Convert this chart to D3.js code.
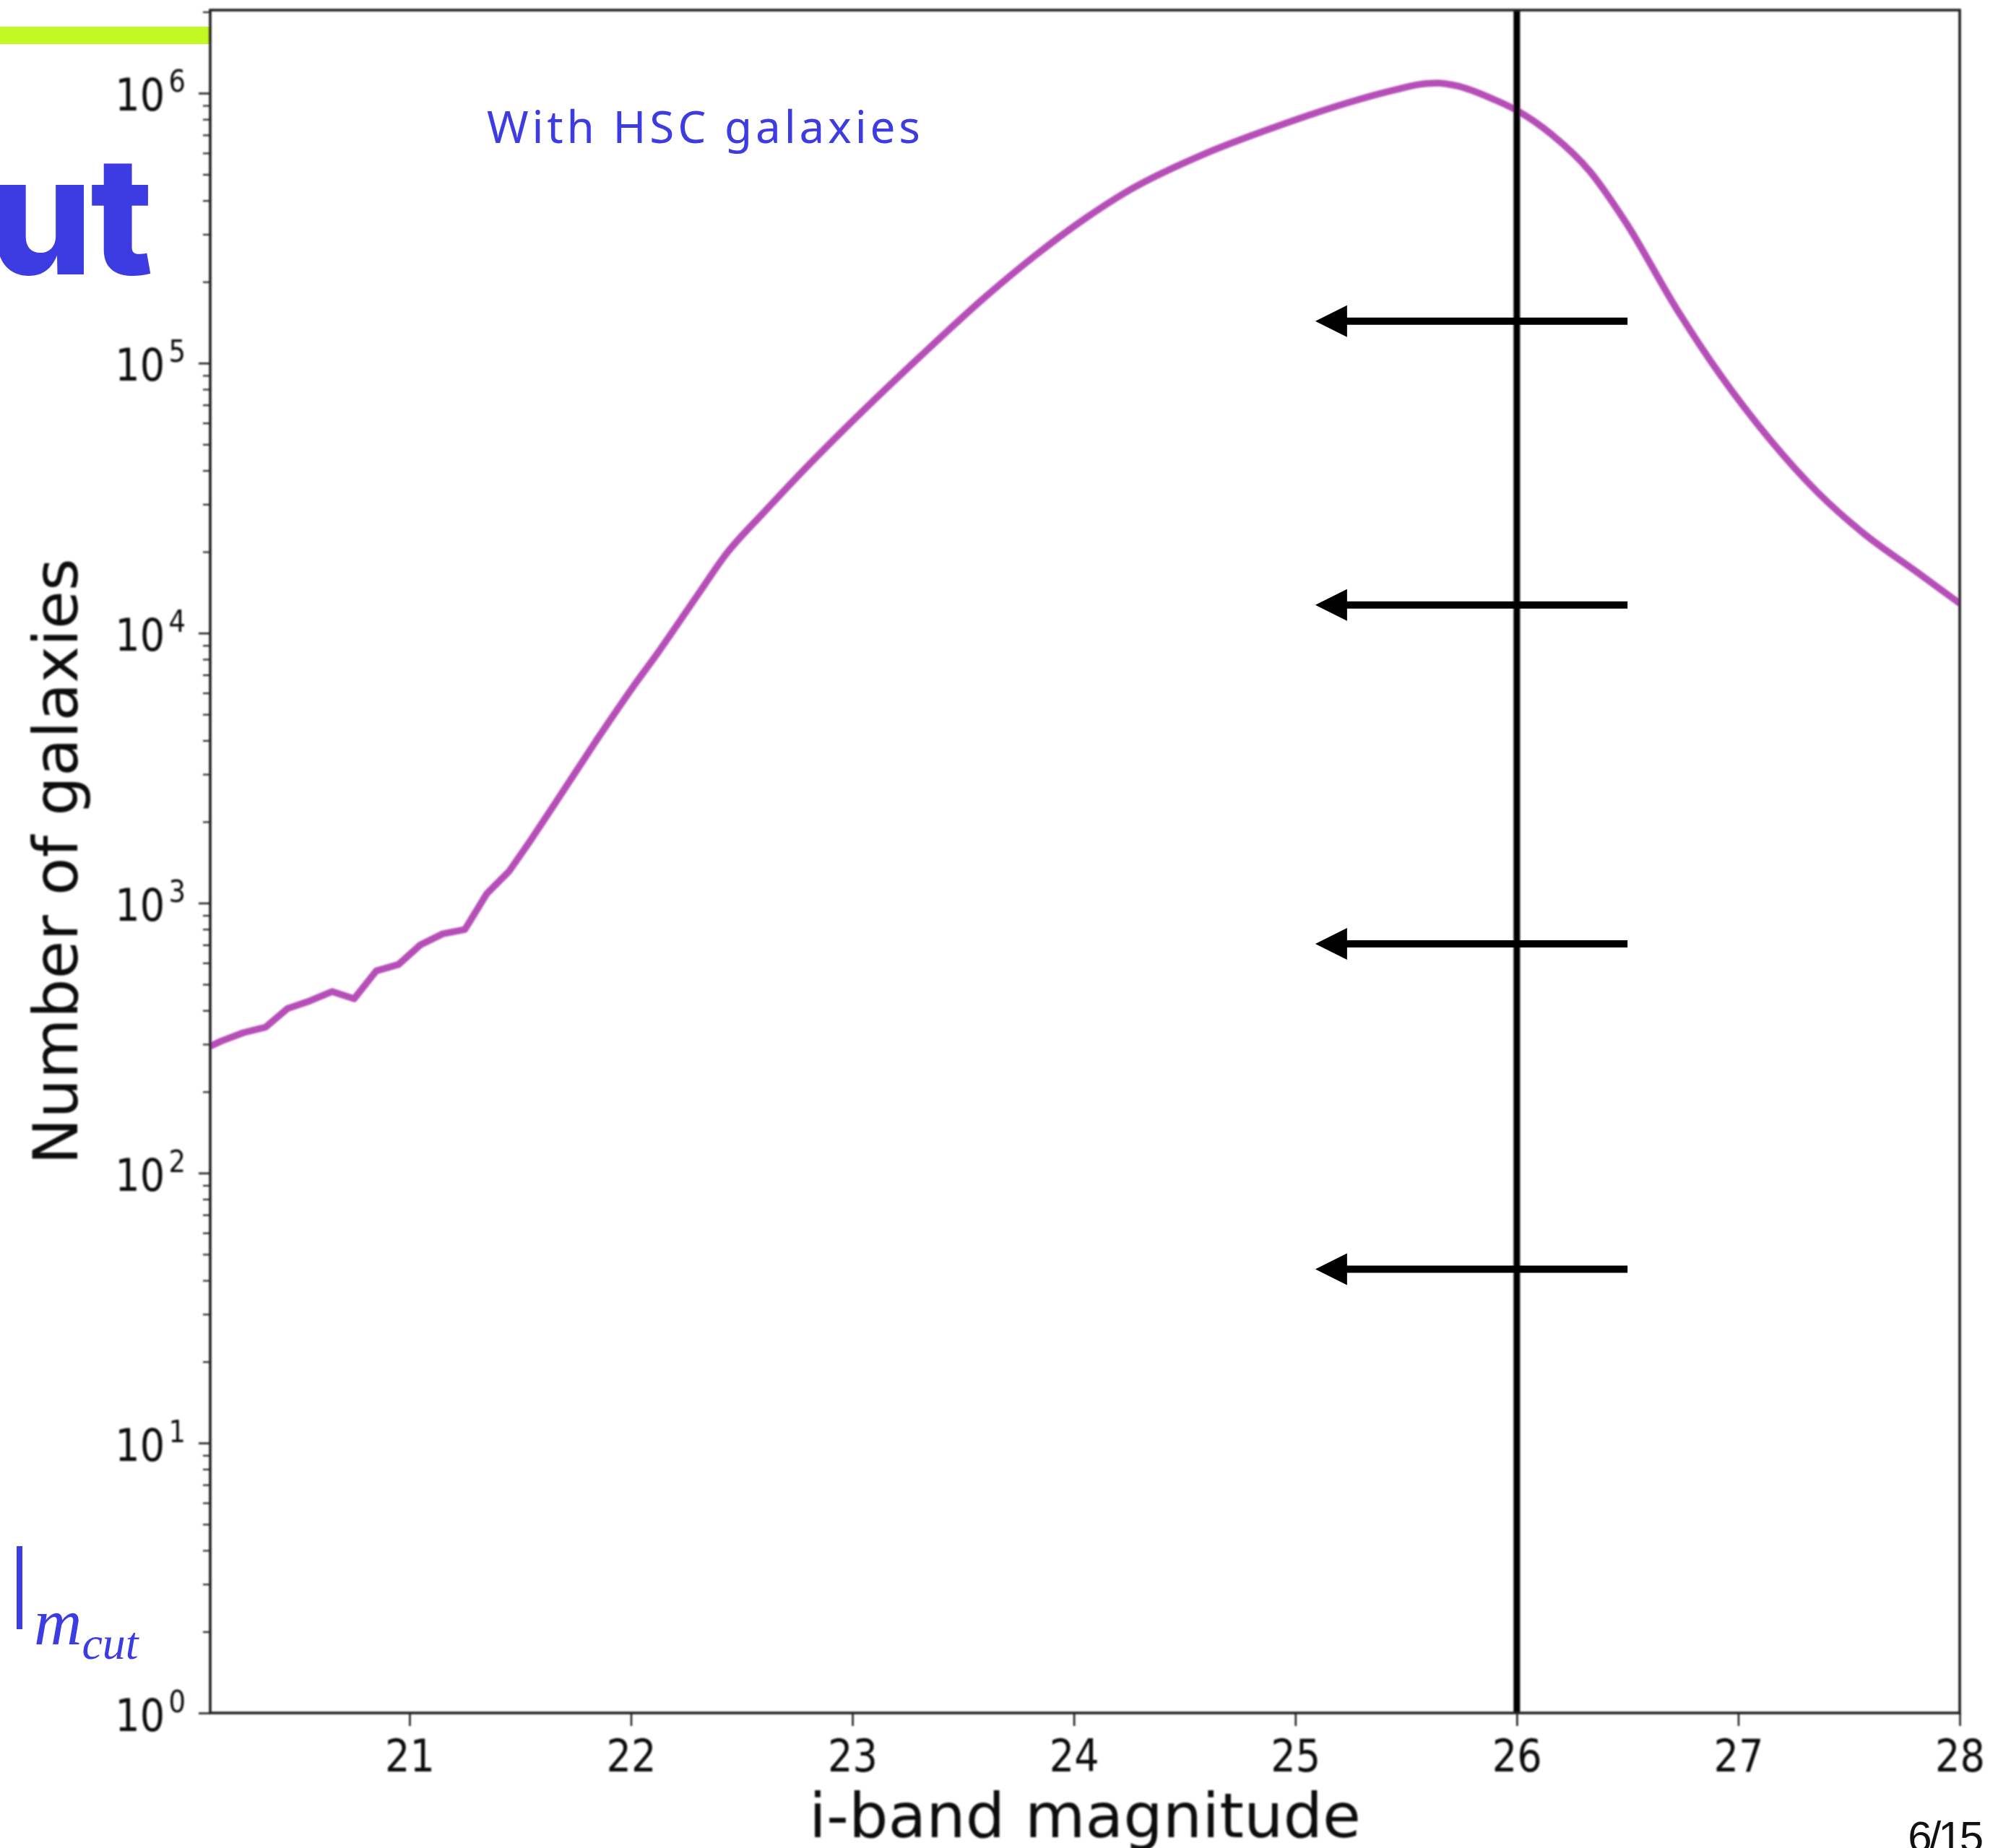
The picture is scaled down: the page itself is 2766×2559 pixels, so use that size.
<!DOCTYPE html>
<html>
<head>
<meta charset="utf-8">
<script src="https://cdn.jsdelivr.net/npm/d3@7"></script>
<style>
  html, body { margin: 0; padding: 0; background: #fff; }
  svg { display: block; }
</style>
</head>
<body>
<script>
// i-band magnitude bins and galaxy counts per bin
const magnitudes = [20.05, 20.15, 20.25, 20.35, 20.45, 20.55, 20.65, 20.75, 20.85, 20.95,
  21.05, 21.15, 21.25, 21.35, 21.45, 21.55, 21.65, 21.75, 21.85,
  22.0, 22.13, 22.3, 22.43, 22.6, 22.73,
  23.0, 23.3, 23.6, 23.82,
  24.05, 24.26, 24.59, 24.91,
  25.05, 25.24, 25.45, 25.56, 25.64, 25.73, 25.89,
  26.0, 26.16, 26.33, 26.49, 26.72, 26.92,
  27.14, 27.36, 27.58, 27.8, 28.0];
const galaxyCounts = [282, 308, 331, 347, 407, 434, 470, 442, 561, 592,
  701, 769, 798, 1086, 1312, 1722, 2291, 3055, 4074,
  6166, 8650, 13800, 19630, 27990, 36390,
  60950, 104700, 175800, 248300,
  342800, 441600, 595700, 750000,
  822400, 922600, 1028000, 1077000, 1090000, 1064000, 952800,
  863000, 699800, 512900, 334200, 159600, 90160,
  52480, 33110, 22910, 16980, 12880];
// the faint end of the sample is drawn bin to bin, the rest as a smooth curve
const smoothFrom = 21.85;

// axis ticks
const xTicks = [21, 22, 23, 24, 25, 26, 27, 28];
const yTicks = [1, 10, 100, 1000, 10000, 100000, 1000000];
const yTickExponents = ["0", "1", "2", "3", "4", "5", "6"];

// magnitude cut and the arrows pointing towards brighter magnitudes
const cutMagnitude = 26;
const arrowLevels = [143000, 12700, 706, 44];
const arrowFrom = 26.5;
const arrowTo = 25.09;

const xLabel = "i-band magnitude";
const yLabel = "Number of galaxies";
const annotation = "With HSC galaxies";
const titleTail = "ut";
const slideNumber = "6/15";

const W = 2766, H = 2559;
const L = 291, R = 2713, T = 14, B = 2372;
const BLUE = "#3d3be2";
const CURVE = "#b54fb7";
const TICK_FONT = "'DejaVu Sans', sans-serif";

const x = d3.scaleLinear().domain([20.1, 28]).range([L, R]);
const y = d3.scaleLog().domain([1, 2.03e6]).range([B, T]);

const svg = d3.select("body").append("svg")
  .attr("width", W).attr("height", H)
  .attr("viewBox", `0 0 ${W} ${H}`);

const defs = svg.append("defs");
defs.append("filter").attr("id", "soft")
  .attr("x", "-5%").attr("y", "-5%").attr("width", "110%").attr("height", "110%")
  .append("feGaussianBlur").attr("stdDeviation", 0.9);
defs.append("clipPath").attr("id", "plotArea")
  .append("rect").attr("x", L).attr("y", T).attr("width", R - L).attr("height", B - T);

svg.append("rect").attr("width", W).attr("height", H).attr("fill", "#fff");

// slide heading remnants
svg.append("rect")
  .attr("x", 0).attr("y", 37).attr("width", L).attr("height", 24)
  .attr("fill", "#c3f923");
svg.append("text")
  .attr("x", 208).attr("y", 380)
  .attr("text-anchor", "end")
  .attr("font-family", "Inter, 'Noto Sans', sans-serif")
  .attr("font-weight", 800)
  .attr("font-size", 228)
  .attr("letter-spacing", -4)
  .attr("fill", BLUE)
  .text(titleTail);

// chart
const chart = svg.append("g").attr("filter", "url(#soft)");

// x axis
const gx = chart.append("g")
  .attr("transform", `translate(0,${B})`)
  .call(d3.axisBottom(x).tickValues(xTicks).tickSize(18).tickFormat(""));
gx.select(".domain").remove();
gx.selectAll(".tick line").attr("stroke", "#222").attr("stroke-width", 2.6);
gx.selectAll(".tick").append("text")
  .attr("y", 81)
  .attr("transform", "scale(0.86,1)")
  .attr("text-anchor", "middle")
  .attr("font-family", TICK_FONT)
  .attr("font-size", 63)
  .attr("fill", "#111")
  .text(d => d);

// y axis: minor ticks
const minorTicks = [];
for (let k = 0; k <= 6; k++) {
  for (let m = 2; m <= 9; m++) {
    const v = m * Math.pow(10, k);
    if (v < y.domain()[1]) minorTicks.push(v);
  }
}
const gyMinor = chart.append("g")
  .attr("transform", `translate(${L},0)`)
  .call(d3.axisLeft(y).tickValues(minorTicks).tickSize(10).tickFormat(""));
gyMinor.select(".domain").remove();
gyMinor.selectAll(".tick line").attr("stroke", "#222").attr("stroke-width", 2.2);

// y axis: major ticks with power-of-ten labels
const gy = chart.append("g")
  .attr("transform", `translate(${L},0)`)
  .call(d3.axisLeft(y).tickValues(yTicks).tickSize(16).tickFormat(""));
gy.select(".domain").remove();
gy.selectAll(".tick line").attr("stroke", "#222").attr("stroke-width", 2.6);
const yLabels = gy.selectAll(".tick").append("text")
  .attr("transform", "translate(-34,0) scale(0.86,1)")
  .attr("y", 24)
  .attr("text-anchor", "end")
  .attr("font-family", TICK_FONT)
  .attr("fill", "#111");
yLabels.append("tspan").attr("font-size", 63).text("10");
yLabels.append("tspan")
  .attr("font-size", 43)
  .attr("dx", 6)
  .attr("dy", -26)
  .text((d, i) => yTickExponents[i]);

// counts curve
const series = magnitudes.map((m, i) => ({ m, n: galaxyCounts[i] }));
const curveGroup = chart.append("g")
  .attr("clip-path", "url(#plotArea)")
  .attr("fill", "none")
  .attr("stroke", CURVE)
  .attr("stroke-width", 9.5)
  .attr("stroke-linejoin", "round")
  .attr("stroke-linecap", "round");
curveGroup.append("path")
  .datum(series.filter(d => d.m <= smoothFrom))
  .attr("d", d3.line().x(d => x(d.m)).y(d => y(d.n)));
curveGroup.append("path")
  .datum(series.filter(d => d.m >= smoothFrom))
  .attr("d", d3.line().x(d => x(d.m)).y(d => y(d.n)).curve(d3.curveMonotoneX));

// magnitude cut
chart.append("line")
  .attr("x1", x(cutMagnitude)).attr("x2", x(cutMagnitude))
  .attr("y1", T).attr("y2", B)
  .attr("stroke", "#000").attr("stroke-width", 9);

// frame
chart.append("rect")
  .attr("x", L).attr("y", T).attr("width", R - L).attr("height", B - T)
  .attr("fill", "none").attr("stroke", "#222").attr("stroke-width", 3.6);

// axis titles
chart.append("text")
  .attr("x", (L + R) / 2).attr("y", 2544)
  .attr("text-anchor", "middle")
  .attr("font-family", TICK_FONT)
  .attr("font-size", 86)
  .attr("fill", "#111")
  .text(xLabel);
chart.append("text")
  .attr("transform", `translate(107,${(T + B) / 2}) rotate(-90)`)
  .attr("text-anchor", "middle")
  .attr("font-family", TICK_FONT)
  .attr("font-size", 86)
  .attr("fill", "#111")
  .text(yLabel);

// arrows towards brighter magnitudes
const HEAD_LEN = 44, HEAD_HALF = 22;
const arrows = svg.append("g");
arrowLevels.forEach(v => {
  const yy = y(v);
  const tip = x(arrowTo);
  arrows.append("line")
    .attr("x1", x(arrowFrom)).attr("x2", tip + HEAD_LEN - 2)
    .attr("y1", yy).attr("y2", yy)
    .attr("stroke", "#000").attr("stroke-width", 10);
  arrows.append("path")
    .attr("d", `M${tip},${yy} L${tip + HEAD_LEN},${yy - HEAD_HALF} L${tip + HEAD_LEN},${yy + HEAD_HALF} Z`)
    .attr("fill", "#000");
});

// annotation
svg.append("text")
  .attr("x", 674).attr("y", 198)
  .attr("font-family", "'Noto Sans', sans-serif")
  .attr("font-size", 62)
  .attr("textLength", 600)
  .attr("lengthAdjust", "spacing")
  .attr("fill", BLUE)
  .text(annotation);

// m_cut marker
svg.append("rect")
  .attr("x", 23).attr("y", 2141).attr("width", 8).attr("height", 115)
  .attr("fill", BLUE);
const mcut = svg.append("text")
  .attr("x", 47).attr("y", 2277)
  .attr("font-family", "'Liberation Serif', serif")
  .attr("font-style", "italic")
  .attr("fill", BLUE);
mcut.append("tspan").attr("font-size", 92).text("m");
mcut.append("tspan").attr("font-size", 64).attr("dy", 20).text("cut");

// slide number
svg.append("text")
  .attr("x", 2742).attr("y", 2564)
  .attr("text-anchor", "end")
  .attr("font-family", "'Liberation Sans', Arial, sans-serif")
  .attr("font-size", 60)
  .attr("letter-spacing", -4)
  .attr("fill", "#111")
  .text(slideNumber);
</script>
</body>
</html>
